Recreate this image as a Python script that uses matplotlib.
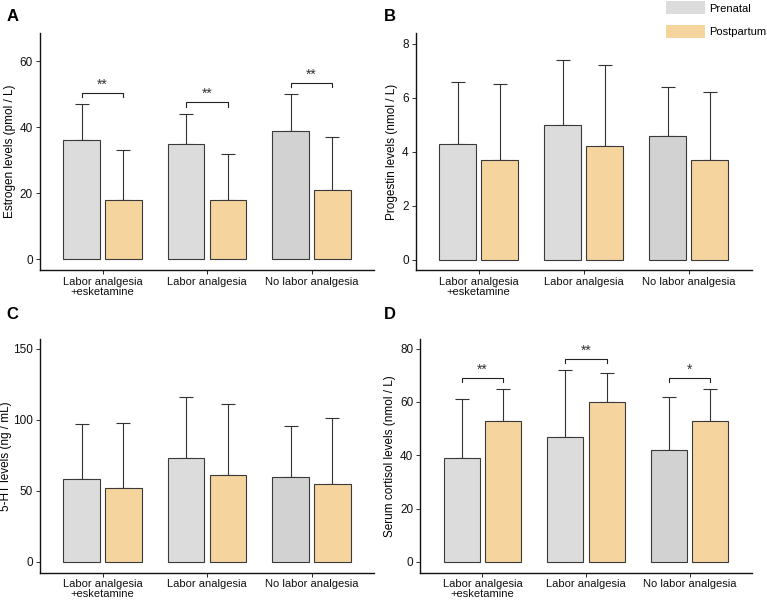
import matplotlib
matplotlib.use("Agg")
import matplotlib.pyplot as plt
import numpy as np
from matplotlib.patches import Patch

plt.rcParams['font.family'] = ['Liberation Sans', 'DejaVu Sans']

groups = ['Labor analgesia\n+esketamine', 'Labor analgesia', 'No labor analgesia']

# panel A: estrogen
estro_pre = [36, 35, 39]
estro_pre_up = [47, 44, 50]
estro_post = [18, 18, 21]
estro_post_up = [33, 32, 37]
estro_sig = ['**', '**', '**']
estro_sig_y = [50.5, 47.5, 53.5]

# panel B: progestin
prog_pre = [4.3, 5.0, 4.6]
prog_pre_up = [6.6, 7.4, 6.4]
prog_post = [3.7, 4.2, 3.7]
prog_post_up = [6.5, 7.2, 6.2]

# panel C: 5-HT
ht_pre = [58, 73, 60]
ht_pre_up = [97, 116, 96]
ht_post = [52, 61, 55]
ht_post_up = [98, 111, 101]

# panel D: cortisol
cort_pre = [39, 47, 42]
cort_pre_up = [61, 72, 62]
cort_post = [53, 60, 53]
cort_post_up = [65, 71, 65]
cort_sig = ['**', '**', '*']
cort_sig_y = [69, 76, 69]

pre_colors = ['#dcdcdc', '#dcdcdc', '#d2d2d2']
post_color = '#f6d49e'
edge = '#3a3a3a'


def panel(ax, pre, pre_up, post, post_up, ylabel, yticks, ylim, sig=None, sig_y=None, lpad=3):
    x = np.arange(1, len(groups) + 1)
    xp = x - 0.2
    xq = x + 0.2
    ax.bar(xp, pre, width=0.35, color=pre_colors, edgecolor=edge, linewidth=0.8, zorder=2)
    ax.bar(xq, post, width=0.35, color=post_color, edgecolor=edge, linewidth=0.8, zorder=2)
    pre = np.array(pre)
    post = np.array(post)
    ax.errorbar(xp, pre, yerr=[np.zeros(3), np.array(pre_up) - pre], fmt='none',
                ecolor='#333333', elinewidth=0.8, capsize=5, capthick=0.8, zorder=1)
    ax.errorbar(xq, post, yerr=[np.zeros(3), np.array(post_up) - post], fmt='none',
                ecolor='#333333', elinewidth=0.8, capsize=5, capthick=0.8, zorder=1)
    if sig is not None:
        tick = (ylim[1] - ylim[0]) * 0.018
        for a, b, s, y in zip(xp, xq, sig, sig_y):
            ax.plot([a, a, b, b], [y - tick, y, y, y - tick], color='#222222', lw=0.8)
            ax.text((a + b) / 2, y + tick * 0.3, s, ha='center', va='bottom', fontsize=10,
                    color='#333333')
    ax.set_xlim(0.4, 3.6)
    ax.set_ylim(*ylim)
    ax.set_yticks(yticks)
    ax.set_xticks(x)
    ax.set_xticklabels(groups, fontsize=8, color='#111111', linespacing=1.0)
    ax.tick_params(axis='y', labelsize=8.5, colors='#111111', length=3, width=0.6, pad=2)
    ax.tick_params(axis='x', length=3, width=0.6, pad=2)
    ax.set_ylabel(ylabel, fontsize=8.5, labelpad=lpad)
    for s in ['top', 'right']:
        ax.spines[s].set_visible(False)
    for s in ['left', 'bottom']:
        ax.spines[s].set_linewidth(1.0)
        ax.spines[s].set_color('#111111')


fig = plt.figure(figsize=(7.67, 6.02), dpi=100)
axA = fig.add_axes([0.052, 0.551, 0.436, 0.394])
axB = fig.add_axes([0.542, 0.551, 0.438, 0.394])
axC = fig.add_axes([0.052, 0.049, 0.436, 0.388])
axD = fig.add_axes([0.548, 0.049, 0.432, 0.388])

panel(axA, estro_pre, estro_pre_up, estro_post, estro_post_up,
      'Estrogen levels (pmol / L)', [0, 20, 40, 60], (-3.3, 68.5), estro_sig, estro_sig_y)
panel(axB, prog_pre, prog_pre_up, prog_post, prog_post_up,
      'Progestin levels (nmol / L)', [0, 2, 4, 6, 8], (-0.4, 8.4))
panel(axC, ht_pre, ht_pre_up, ht_post, ht_post_up,
      '5-HT levels (ng / mL)', [0, 50, 100, 150], (-7.5, 157), lpad=1)
panel(axD, cort_pre, cort_pre_up, cort_post, cort_post_up,
      'Serum cortisol levels (nmol / L)', [0, 20, 40, 60, 80], (-4, 83.6), cort_sig, cort_sig_y)

for lab, (x, y) in zip('ABCD', [(0.008, 0.96), (0.501, 0.96), (0.008, 0.465), (0.501, 0.465)]):
    fig.text(x, y, lab, fontsize=12, fontweight='bold', va='bottom')

handles = [Patch(facecolor='#dcdcdc', edgecolor='none'),
           Patch(facecolor=post_color, edgecolor='none')]
fig.legend(handles, ['Prenatal', 'Postpartum'], loc='upper right',
           bbox_to_anchor=(1.005, 1.005), frameon=False, fontsize=8,
           handlelength=3.5, handleheight=1.4, labelspacing=1.0, handletextpad=0.4,
           borderaxespad=0.0)

fig.savefig('out.png', dpi=100)
